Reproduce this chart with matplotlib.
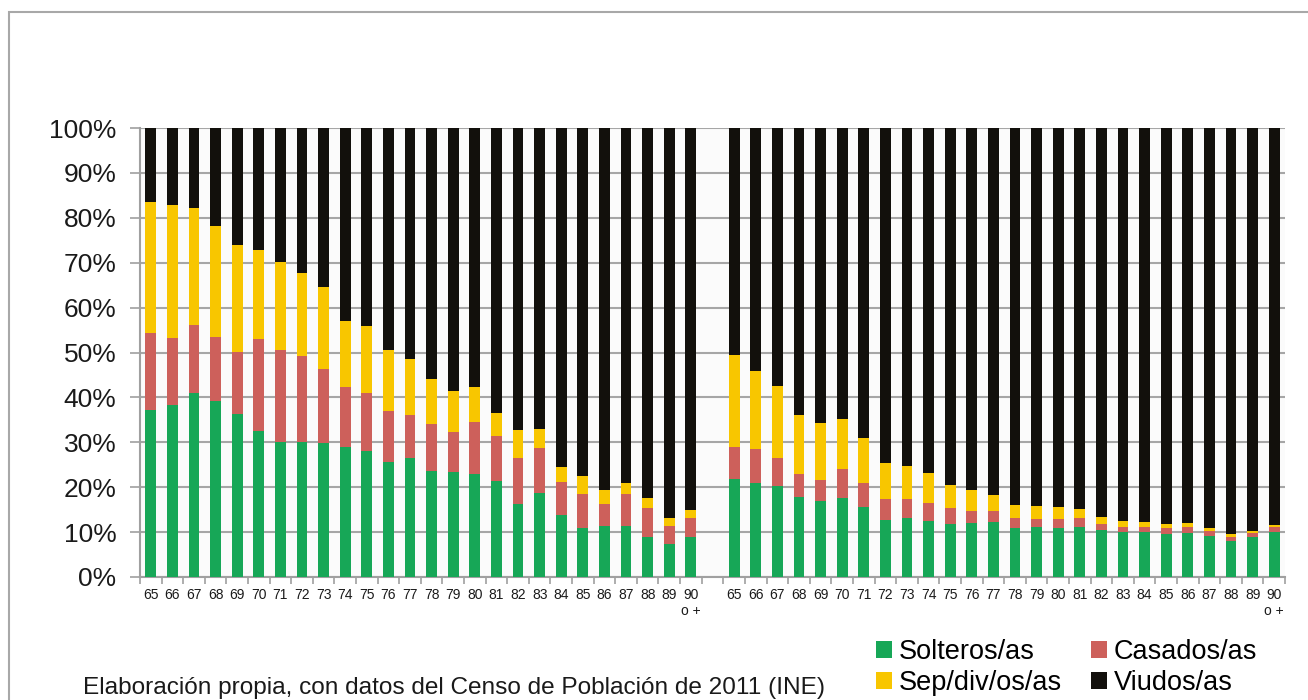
import numpy as np
import matplotlib.pyplot as plt
from matplotlib.patches import Rectangle, Patch

# Estado civil por edad (65 a 90 o +), dos grupos, % sobre el total
edades = ['65', '66', '67', '68', '69', '70', '71', '72', '73', '74', '75', '76', '77',
          '78', '79', '80', '81', '82', '83', '84', '85', '86', '87', '88', '89', '90\no +']

# grupo izquierdo
solteros_a = [37.2, 38.2, 40.9, 39.1, 36.2, 32.6, 30.1, 30.0, 29.8, 28.9, 28.1, 25.7, 26.4,
              23.6, 23.3, 23.0, 21.4, 16.3, 18.7, 13.7, 10.9, 11.4, 11.4, 9.0, 7.3, 8.8]
casados_a = [17.1, 15.0, 15.2, 14.4, 13.9, 20.4, 20.4, 19.3, 16.6, 13.4, 12.9, 11.3, 9.7,
             10.4, 9.0, 11.6, 10.1, 10.1, 10.0, 7.5, 7.5, 4.9, 7.0, 6.4, 4.1, 4.4]
sepdiv_a = [29.3, 29.7, 26.0, 24.6, 23.8, 19.8, 19.6, 18.3, 18.1, 14.8, 14.8, 13.6, 12.5,
            10.0, 9.1, 7.7, 5.0, 6.3, 4.2, 3.4, 4.2, 3.1, 2.5, 2.3, 1.7, 1.7]
viudos_a = [16.4, 17.1, 17.9, 21.9, 26.1, 27.2, 29.9, 32.4, 35.5, 42.9, 44.2, 49.4, 51.4,
            56.0, 58.6, 57.7, 63.5, 67.3, 67.1, 75.4, 77.4, 80.6, 79.1, 82.3, 86.9, 85.1]

# grupo derecho
solteros_b = [21.8, 20.9, 20.3, 17.9, 17.0, 17.7, 15.5, 12.7, 13.2, 12.5, 11.9, 12.0, 12.3,
              11.0, 11.2, 11.0, 11.2, 10.4, 10.1, 10.1, 9.6, 9.9, 9.1, 8.1, 8.8, 10.1]
casados_b = [7.2, 7.5, 6.1, 5.1, 4.5, 6.4, 5.4, 4.6, 4.2, 3.9, 3.5, 2.7, 2.5,
             2.2, 1.8, 1.9, 2.0, 1.5, 1.1, 1.1, 1.3, 1.2, 1.2, 0.9, 1.1, 1.0]
sepdiv_b = [20.4, 17.4, 16.2, 13.1, 12.8, 11.0, 10.0, 8.2, 7.4, 6.7, 5.0, 4.7, 3.5,
            2.8, 2.8, 2.6, 1.9, 1.5, 1.3, 1.0, 0.8, 0.9, 0.7, 0.6, 0.3, 0.4]
viudos_b = [50.6, 54.2, 57.4, 63.9, 65.7, 64.9, 69.1, 74.5, 75.2, 76.9, 79.6, 80.6, 81.7,
            84.0, 84.2, 84.5, 84.9, 86.6, 87.5, 87.8, 88.3, 88.0, 89.0, 90.4, 89.8, 88.5]

series = ['Solteros/as', 'Casados/as', 'Sep/div/os/as', 'Viudos/as']
colores = ['#17A757', '#CD605B', '#F8C600', '#12100C']

plt.rcParams['font.family'] = ['Liberation Sans', 'DejaVu Sans']

fig = plt.figure(figsize=(13.08, 7.0), dpi=100)
ax = fig.add_axes([140/1308, 1 - 577/700, (1285 - 140)/1308, (577 - 128)/700])
ax.set_facecolor('#FBFBFB')

n = len(edades)
xa = np.arange(n)
xb = np.arange(n) + n + 1

for x, grupo in [(xa, [solteros_a, casados_a, sepdiv_a, viudos_a]),
                 (xb, [solteros_b, casados_b, sepdiv_b, viudos_b])]:
    base = np.zeros(n)
    for vals, col in zip(grupo, colores):
        ax.bar(x, vals, width=0.5, bottom=base, color=col, linewidth=0, zorder=3)
        base += np.array(vals)

ax.set_xlim(-0.5, 2*n + 0.5)
ax.set_ylim(0, 100)
ax.set_yticks(np.arange(0, 101, 10))
ax.set_yticklabels([f'{v}%' for v in range(0, 101, 10)], fontsize=19, color='#1a1a1a')
ax.set_xticks(np.concatenate([xa, xb]))
ax.set_xticklabels(edades + edades, fontsize=10, color='#1a1a1a', va='top')
ax.set_xticks(np.arange(-0.5, 2*n + 1, 1), minor=True)
ax.tick_params(axis='x', which='major', length=0, pad=8)
ax.tick_params(axis='x', which='minor', length=5, color='#A0A0A0', width=1.2)
ax.tick_params(axis='y', length=7, color='#A0A0A0', width=1.2, pad=10)

ax.yaxis.grid(True, color='#A6A6A6', linewidth=1.5, zorder=1)
ax.set_axisbelow(True)
for s in ['top', 'right']:
    ax.spines[s].set_visible(False)
for s in ['left', 'bottom']:
    ax.spines[s].set_color('#A0A0A0')
    ax.spines[s].set_linewidth(1.5)

# marco gris
fig.patches.append(Rectangle((9/1308, -0.2), 1.2, 1.2 - 12/700, transform=fig.transFigure,
                             fill=False, edgecolor='#A8A8A8', linewidth=1.5))

orden = [0, 2, 1, 3]
handles = [Patch(facecolor=colores[i], edgecolor='none') for i in orden]
fig.legend(handles, [series[i] for i in orden], ncol=2, loc='upper left',
           bbox_to_anchor=(876/1308, 1 - 639/700), frameon=False, fontsize=19.5,
           handlelength=0.6, handleheight=0.6, handletextpad=0.25,
           columnspacing=1.05, labelspacing=0.2, borderpad=0, borderaxespad=0)

fig.text(83/1308, 1 - 694/700, 'Elaboración propia, con datos del Censo de Población de 2011 (INE)',
         fontsize=17.6, color='#1a1a1a', va='baseline', ha='left')

fig.savefig('out.png', dpi=100)
